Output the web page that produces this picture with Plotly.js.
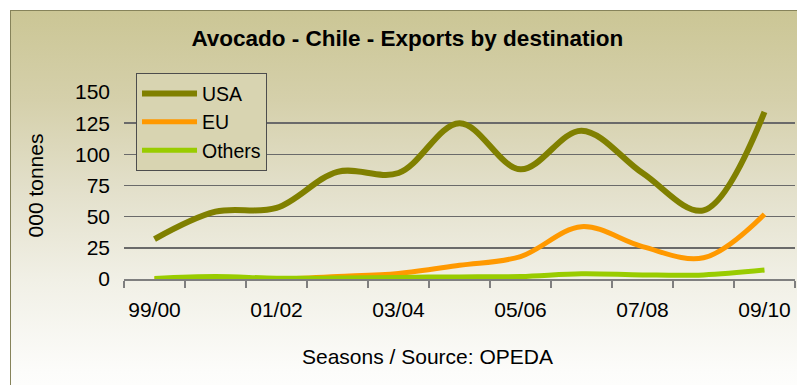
<!DOCTYPE html>
<html><head><meta charset="utf-8">
<script src="https://cdn.plot.ly/plotly-3.0.1.min.js"></script>
<style>
html,body{margin:0;padding:0;background:#fff;overflow:hidden;width:797px;height:385px;}
#bg{position:absolute;left:10px;top:10px;width:820px;height:400px;border:1px solid #86835a;
background:linear-gradient(to bottom,#cbc695 0px,#d5d0ab 90px,#e3e0cb 180px,#f1f0e6 270px,#fcfcfa 360px,#ffffff 400px);}
#chart{position:absolute;left:0;top:0;width:797px;height:385px;}
</style></head><body>
<div id="bg"></div><div id="chart"></div>
<script>
const seasons = ['99/00','00/01','01/02','02/03','03/04','04/05','05/06','06/07','07/08','08/09','09/10'];
const usa    = [32, 54, 57, 86, 85, 125, 88, 119, 85, 55, 134];
const eu     = [0, 0, 0, 2, 4.5, 11, 18, 42, 26, 17, 52];
const others = [0.5, 2, 0.6, 0.8, 1.3, 1.7, 2, 4.2, 3.3, 3.3, 7.2];
const shownLabels = ['99/00','01/02','03/04','05/06','07/08','09/10'];

const xi = seasons.map((s, i) => i);
const labelIdx = shownLabels.map(l => seasons.indexOf(l));
const boundaries = seasons.map((s, i) => i - 0.5).concat([seasons.length - 0.5]);

const FONT = 'Liberation Sans, Arial, sans-serif';
const mk = (name, y, color, w) => ({
  x: xi, y: y, name: name, type: 'scatter', mode: 'lines', cliponaxis: false,
  line: {color: color, width: w, shape: 'spline', smoothing: 1}
});
const data = [
  mk('USA', usa, '#808000', 6),
  mk('EU', eu, '#ff9900', 5),
  mk('Others', others, '#99cc00', 5)
];
const layout = {
  width: 797, height: 385,
  paper_bgcolor: 'rgba(0,0,0,0)', plot_bgcolor: 'rgba(0,0,0,0)',
  margin: {l: 124, r: 2, t: 92, b: 106, autoexpand: false},
  font: {family: FONT, size: 21, color: '#000'},
  title: {text: 'Avocado - Chile - Exports by destination',
    font: {family: FONT, size: 22.5, weight: 'bold', color: '#000'},
    x: 0.511, xref: 'container', xanchor: 'center', y: 0.9, yref: 'container', yanchor: 'middle'},
  xaxis: {range: [-0.5, seasons.length - 0.5], tickmode: 'array', tickvals: labelIdx, ticktext: shownLabels,
    ticks: '', showgrid: false, zeroline: false, showline: true, linecolor: '#7f7f7f', linewidth: 2,
    tickfont: {size: 21, color: '#000'}, ticklabelstandoff: 11, automargin: false,
    minor: {tickmode: 'array', tickvals: boundaries, ticks: 'outside', ticklen: 7, tickwidth: 1.5, tickcolor: '#7f7f7f', showgrid: false}},
  yaxis: {range: [0, 150], dtick: 25, tick0: 0, showgrid: true, gridcolor: '#6a6a6a', gridwidth: 1.5,
    zeroline: false, showline: false, ticks: '', tickfont: {size: 21, color: '#000'}, ticklabelstandoff: 13,
    automargin: false, title: {text: '000 tonnes', font: {size: 21, color: '#000'}, standoff: 25}},
  legend: {x: 0.0179, y: 1.1, xanchor: 'left', yanchor: 'top', bgcolor: '#d8d4b1', bordercolor: '#4d4d4d',
    borderwidth: 1, font: {size: 19.5, color: '#000'}, itemwidth: 55, tracegroupgap: 0},
  annotations: [{text: 'Seasons / Source: OPEDA', xref: 'paper', yref: 'paper', x: 0.4516, y: -0.415,
    showarrow: false, xanchor: 'center', yanchor: 'middle', font: {size: 21, color: '#000'}}]
};
Plotly.newPlot('chart', data, layout, {displayModeBar: false, staticPlot: true});
</script>
</body></html>
